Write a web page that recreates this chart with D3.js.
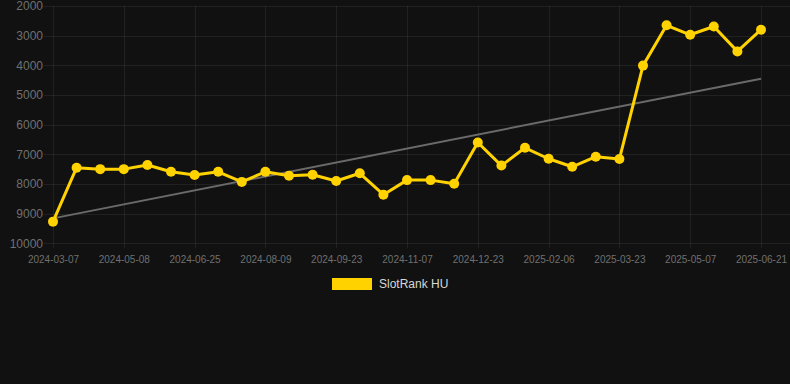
<!DOCTYPE html>
<html><head><meta charset="utf-8">
<script src="https://cdn.jsdelivr.net/npm/d3@7"></script>
<style>
html,body{margin:0;padding:0;background:#111111;}
svg{display:block;}
</style></head>
<body>
<svg id="chart" width="790" height="384"></svg>
<script>
const dates = [
  "2024-03-07","2024-03-24","2024-04-23","2024-05-08","2024-05-24","2024-06-09",
  "2024-06-25","2024-07-10","2024-07-25","2024-08-09","2024-08-24","2024-09-08",
  "2024-09-23","2024-10-08","2024-10-23","2024-11-07","2024-11-22","2024-12-08",
  "2024-12-23","2025-01-07","2025-01-22","2025-02-06","2025-02-21","2025-03-08",
  "2025-03-23","2025-04-07","2025-04-22","2025-05-07","2025-05-22","2025-06-06",
  "2025-06-21"
];
const ranks = [
  9270, 7450, 7500, 7500, 7360, 7590,
  7700, 7590, 7930, 7590, 7720, 7690,
  7900, 7640, 8360, 7870, 7870, 7990,
  6600, 7380, 6780, 7150, 7420, 7080,
  7160, 4010, 2650, 2970, 2690, 3530,
  2800
];
const trendValues = [9160, 4450];
const yTicks = [2000, 3000, 4000, 5000, 6000, 7000, 8000, 9000, 10000];
const xTickLabels = ["2024-03-07","2024-05-08","2024-06-25","2024-08-09","2024-09-23",
  "2024-11-07","2024-12-23","2025-02-06","2025-03-23","2025-05-07","2025-06-21"];
const seriesName = "SlotRank HU";

const svg = d3.select("#chart");
const gridLeft = 44, gridRight = 790;
const x = d3.scalePoint().domain(dates).range([53, 761]);
const y = d3.scaleLinear().domain([2000, 10000]).range([6, 243.3]);

const font = "Helvetica, Arial, 'Liberation Sans', sans-serif";

// horizontal grid
svg.append("g").selectAll("line").data(yTicks).join("line")
  .attr("x1", gridLeft).attr("x2", gridRight)
  .attr("y1", d => Math.round(y(d)) + 0.5).attr("y2", d => Math.round(y(d)) + 0.5)
  .attr("stroke", "rgba(255,255,255,0.07)").attr("stroke-width", 1);

// vertical grid at labeled ticks
svg.append("g").selectAll("line").data(xTickLabels).join("line")
  .attr("x1", d => Math.round(x(d)) + 0.5).attr("x2", d => Math.round(x(d)) + 0.5)
  .attr("y1", y(2000)).attr("y2", y(10000) + 5)
  .attr("stroke", "rgba(255,255,255,0.07)").attr("stroke-width", 1);

// y axis labels
const yAxis = d3.axisLeft(y).tickValues(yTicks).tickSize(0).tickPadding(0).tickFormat(d3.format("d"));
const yg = svg.append("g").attr("transform", `translate(43,0)`).call(yAxis);
yg.select(".domain").remove();
yg.selectAll("text").attr("fill", "#707070").attr("font-size", 12).attr("font-family", font);

// x axis labels
const xAxis = d3.axisBottom(x).tickValues(xTickLabels).tickSize(0).tickPadding(0);
const xg = svg.append("g").attr("transform", `translate(0,255.5)`).call(xAxis);
xg.select(".domain").remove();
xg.selectAll("text").attr("fill", "#707070").attr("font-size", 10).attr("font-family", font);

// trend line
svg.append("line")
  .attr("x1", x(dates[0])).attr("y1", y(trendValues[0]))
  .attr("x2", x(dates[dates.length - 1])).attr("y2", y(trendValues[1]))
  .attr("stroke", "#6a6a6a").attr("stroke-width", 2);

// series line
const line = d3.line().x((d, i) => x(dates[i])).y(d => y(d));
svg.append("path").datum(ranks)
  .attr("d", line).attr("fill", "none")
  .attr("stroke", "#FFD200").attr("stroke-width", 3).attr("stroke-linejoin", "round");

svg.append("g").selectAll("circle").data(ranks).join("circle")
  .attr("cx", (d, i) => x(dates[i])).attr("cy", d => y(d)).attr("r", 5)
  .attr("fill", "#FFD200");

// legend
const lg = svg.append("g");
lg.append("rect").attr("x", 332).attr("y", 278).attr("width", 40).attr("height", 12).attr("fill", "#FFD200");
lg.append("text").attr("x", 379).attr("y", 284.5).attr("dominant-baseline", "middle")
  .attr("fill", "#d8d8d8").attr("font-size", 12).attr("font-family", font).text(seriesName);
</script>
</body></html>
